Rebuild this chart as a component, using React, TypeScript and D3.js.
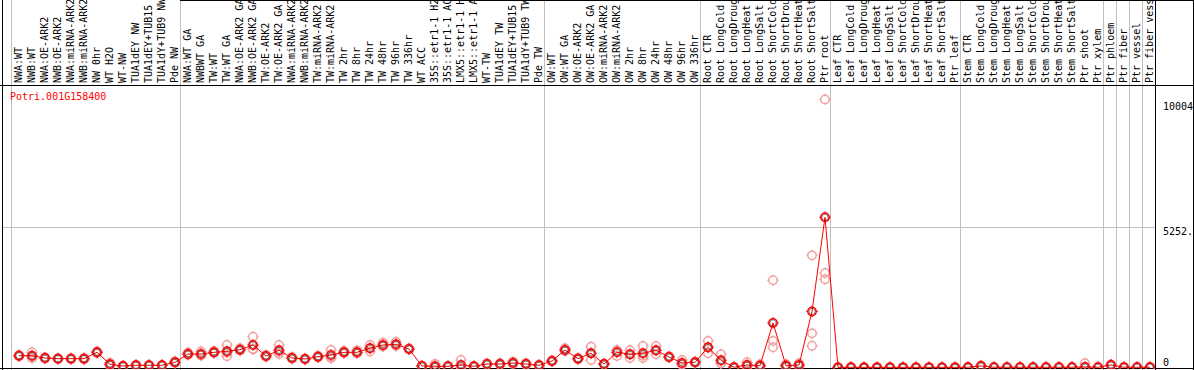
import React from 'react';
import * as d3 from 'd3';

const geneId = 'Potri.001G158400';

const labels: string[] = [
  'NWA:WT', 'NWB:WT', 'NWA:OE-ARK2', 'NWB:OE-ARK2', 'NWA:miRNA-ARK2', 'NWB:miRNA-ARK2', 'NW 0hr', 'WT H2O', 'WT-NW',
  'TUA1dEY NW', 'TUA1dEY+TUB15 NW', 'TUA1dY+TUB9 NW', 'Pde NW',
  'NWA:WT GA', 'NWBWT GA', 'TW:WT', 'TW:WT GA', 'NWA:OE-ARK2 GA', 'NWB:OE-ARK2 GA', 'TW:OE-ARK2', 'TW:OE-ARK2 GA',
  'NWA:miRNA-ARK2 GA', 'NWB:miRNA-ARK2 GA', 'TW:miRNA-ARK2', 'TW:miRNA-ARK2', 'TW 2hr', 'TW 8hr', 'TW 24hr', 'TW 48hr',
  'TW 96hr', 'TW 336hr', 'WT ACC', '35S::etr1-1 H2O', '35S::etr1-1 ACC', 'LMX5::etr1-1 H2O', 'LMX5::etr1-1 ACC', 'WT-TW',
  'TUA1dEY TW', 'TUA1dEY+TUB15 TW', 'TUA1dY+TUB9 TW', 'Pde TW',
  'OW:WT', 'OW:WT GA', 'OW:OE-ARK2', 'OW:OE-ARK2 GA', 'OW:miRNA-ARK2', 'OW:miRNA-ARK2', 'OW 2hr', 'OW 8hr', 'OW 24hr',
  'OW 48hr', 'OW 96hr', 'OW 336hr',
  'Root CTR', 'Root LongCold', 'Root LongDrought', 'Root LongHeat', 'Root LongSalt', 'Root ShortCold', 'Root ShortDrought',
  'Root ShortHeat', 'Root ShortSalt', 'Ptr root',
  'Leaf CTR', 'Leaf LongCold', 'Leaf LongDrought', 'Leaf LongHeat', 'Leaf LongSalt', 'Leaf ShortCold', 'Leaf ShortDrought',
  'Leaf ShortHeat', 'Leaf ShortSalt', 'Ptr leaf',
  'Stem CTR', 'Stem LongCold', 'Stem LongDrought', 'Stem LongHeat', 'Stem LongSalt', 'Stem ShortCold', 'Stem ShortDrought',
  'Stem ShortHeat', 'Stem ShortSalt', 'Ptr shoot', 'Ptr xylem',
  'Ptr phloem', 'Ptr fiber', 'Ptr vessel', 'Ptr fiber vessel',
];

const means: number[] = [
  440, 440, 354, 330, 330, 330, 567, 119, 56, 82, 82, 82, 194,
  503, 503, 567, 604, 664, 839, 429, 641, 354, 317, 403, 466, 567, 567, 716, 839, 865, 690, 56, 47, 45, 93, 45, 130, 130,
  168, 130, 82,
  242, 653, 330, 530, 130, 567, 492, 530, 641, 392, 168, 194,
  753, 268, 10, 93, 67, 1665, 67, 93, 2091, 5606,
  5, 8, 5, 5, 5, 5, 5, 5, 5, 5,
  10, 56, 10, 10, 10, 10, 10, 10, 10, 20, 10,
  93, 10, 10, 10,
];

const rep1: number[] = [
  470, 567, 380, 345, 350, 310, 600, 180, 60, 95, 90, 88, 230,
  560, 600, 620, 839, 720, 1149, 470, 839, 390, 340, 440, 653, 620, 640, 839, 930, 960, 720, 70, 130, 60, 280, 50, 150, 160,
  220, 170, 100,
  270, 720, 360, 776, 150, 641, 641, 802, 802, 420, 280, 220,
  988, 492, 20, 194, 120, 3253, 120, 157, 4185, 10004,
  8, 12, 8, 8, 8, 8, 8, 8, 8, 8,
  14, 80, 14, 14, 14, 14, 14, 14, 14, 157, 14,
  110, 14, 14, 14,
];
const rep2: number[] = [
  430, 343, 330, 315, 320, 360, 530, 80, 50, 70, 75, 76, 170,
  480, 450, 540, 550, 640, 690, 400, 503, 330, 300, 380, 343, 540, 530, 716, 800, 830, 670, 50, 5, 40, 0, 45, 120, 115,
  150, 110, 70,
  230, 620, 310, 280, 120, 430, 354, 354, 492, 380, 120, 180,
  530, 157, 5, 45, 40, 988, 40, 60, 1275, 3525,
  3, 6, 3, 3, 3, 3, 3, 3, 3, 3,
  8, 50, 8, 8, 8, 8, 8, 8, 8, 0, 8,
  90, 8, 8, 8,
];
const rep3: number[] = [
  420, 410, 352, 330, 320, 320, 570, 97, 58, 81, 81, 82, 182,
  470, 460, 541, 423, 632, 678, 417, 581, 342, 311, 389, 402, 541, 531, 593, 787, 805, 680, 48, 5, 35, 0, 40, 120, 115,
  134, 110, 76,
  226, 619, 320, 534, 120, 630, 481, 434, 629, 376, 104, 182,
  741, 155, 5, 40, 41, 753, 41, 62, 813, 3290,
  4, 6, 4, 4, 4, 4, 4, 4, 4, 4,
  8, 38, 8, 8, 8, 8, 8, 8, 8, 0, 8,
  80, 8, 8, 8,
];

const groupStarts: number[] = [0, 13, 41, 53, 63, 73, 84, 85, 86, 87];
const yTicks: number[] = [10004, 5252, 0];
const yTickLabels: string[] = ['10004', '5252.', '0'];
const yMax = 10504;

const W = 1194;
const H = 370;
const FONT = '"DejaVu Sans Mono", "Liberation Mono", monospace';

function Marker({ x, y, color, r = 4.2 }: { x: number; y: number; color: string; r?: number }) {
  return (
    <g transform={`translate(${x},${y})`}>
      <circle r={r} fill="none" stroke={color} strokeWidth={1.5} />
      <line x1={0} y1={-r - 1.6} x2={0} y2={-r} stroke={color} strokeWidth={1} />
      <line x1={0} y1={r} x2={0} y2={r + 1.6} stroke={color} strokeWidth={1} />
      <line x1={-r - 1.6} y1={0} x2={-r} y2={0} stroke={color} strokeWidth={1} />
      <line x1={r} y1={0} x2={r + 1.6} y2={0} stroke={color} strokeWidth={1} />
    </g>
  );
}

export default function App() {
  const n = labels.length;
  const x = d3.scalePoint<number>().domain(d3.range(n)).range([19, 19 + 13 * (n - 1)]);
  const y = d3.scaleLinear().domain([0, yMax]).range([367.5, 86]);
  const plotRight = (x(n - 1) as number) + 5;

  const line = d3
    .line<number>()
    .x((_, i) => x(i) as number)
    .y((d) => y(d));

  const reps = [rep1, rep2, rep3];
  const tickDy = [11, 8, -2];

  return (
    <svg
      width={W}
      height={H}
      style={{ position: 'absolute', left: 0, top: 0, background: '#fff' }}
      fontFamily={FONT}
    >
      <defs>
        <clipPath id="plotclip">
          <rect x={3} y={86} width={plotRight - 3} height={283} />
        </clipPath>
        <clipPath id="hdrclip">
          <rect x={0} y={0} width={W} height={85} />
        </clipPath>
        <clipPath id="rightclip">
          <rect x={plotRight} y={86} width={W - plotRight - 1} height={283} />
        </clipPath>
      </defs>
      <rect x={0} y={0} width={W} height={H} fill="#fff" />

      {/* vertical grid lines */}
      {groupStarts.map((g) => (
        <line
          key={'g' + g}
          x1={(x(g) as number) - 7.5}
          x2={(x(g) as number) - 7.5}
          y1={0}
          y2={H}
          stroke="#c0c0c0"
          strokeWidth={1}
        />
      ))}
      {/* horizontal grid line */}
      <line x1={3} x2={plotRight} y1={Math.round(y(5252)) + 0.5} y2={Math.round(y(5252)) + 0.5} stroke="#c0c0c0" />

      {/* borders */}
      <line x1={0} x2={W} y1={85.5} y2={85.5} stroke="#000" />
      <line x1={180} x2={W} y1={0.5} y2={0.5} stroke="#000" />
      <line x1={2.5} x2={2.5} y1={0} y2={H} stroke="#000" />
      <line x1={plotRight + 0.5} x2={plotRight + 0.5} y1={0} y2={H} stroke="#000" />
      <line x1={W - 0.5} x2={W - 0.5} y1={0} y2={H} stroke="#000" />
      <line x1={0} x2={W} y1={368.5} y2={368.5} stroke="#000" />

      {/* column labels */}
      <g clipPath="url(#hdrclip)">
        {labels.map((l, i) => (
          <text
            key={'l' + i}
            transform={`translate(${(x(i) as number) + 2.5},83) rotate(-90)`}
            fontSize={10}
            fill="#000"
          >
            {l}
          </text>
        ))}
      </g>

      {/* gene id */}
      <text x={10} y={100} fontSize={10} fill="#ff0000">
        {geneId}
      </text>

      {/* y tick labels */}
      <g clipPath="url(#rightclip)">
        {yTicks.map((t, i) => (
          <text key={'t' + i} x={1163} y={y(t) + tickDy[i]} fontSize={10} fill="#000">
            {yTickLabels[i]}
          </text>
        ))}
      </g>

      <g clipPath="url(#plotclip)">
        {/* replicates */}
        {reps.map((rep, k) =>
          rep.map((v, i) => <Marker key={`r${k}-${i}`} x={x(i) as number} y={y(v)} color="#f2a0a0" />)
        )}
        <path d={line(means) || ''} fill="none" stroke="#ff0000" strokeWidth={1} />
        {means.map((v, i) => (
          <g key={'m' + i}>
            <Marker x={x(i) as number} y={y(v)} color="#ff0000" />
            <circle cx={x(i) as number} cy={y(v)} r={3.1} fill="none" stroke="#000" strokeWidth={0.5} />
          </g>
        ))}
      </g>
    </svg>
  );
}
